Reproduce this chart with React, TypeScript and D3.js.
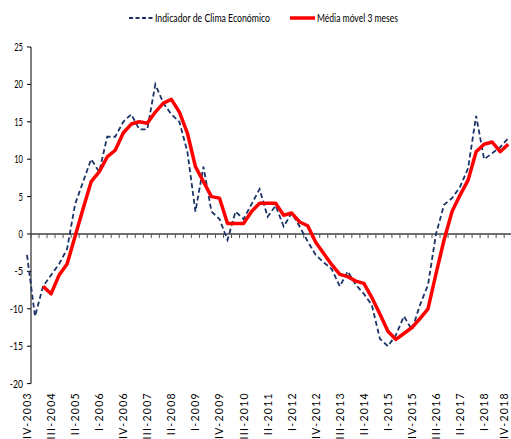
import React from "react";
import * as d3 from "d3";

const quarters: string[] = [
  "IV-2003",
  "I-2004", "II-2004", "III-2004", "IV-2004",
  "I-2005", "II-2005", "III-2005", "IV-2005",
  "I-2006", "II-2006", "III-2006", "IV-2006",
  "I-2007", "II-2007", "III-2007", "IV-2007",
  "I-2008", "II-2008", "III-2008", "IV-2008",
  "I-2009", "II-2009", "III-2009", "IV-2009",
  "I-2010", "II-2010", "III-2010", "IV-2010",
  "I-2011", "II-2011", "III-2011", "IV-2011",
  "I-2012", "II-2012", "III-2012", "IV-2012",
  "I-2013", "II-2013", "III-2013", "IV-2013",
  "I-2014", "II-2014", "III-2014", "IV-2014",
  "I-2015", "II-2015", "III-2015", "IV-2015",
  "I-2016", "II-2016", "III-2016", "IV-2016",
  "I-2017", "II-2017", "III-2017", "IV-2017",
  "I-2018", "II-2018", "III-2018", "IV-2018",
];

const indicador: number[] = [
  -2.8, -11, -7, -5.5, -4, -2, 4, 7, 10, 8.3,
  13, 13, 15, 16, 14, 14, 20, 17.5, 16, 15,
  11, 3, 9, 3, 2, -0.8, 3, 2, 4, 6,
  2.3, 3.8, 1, 2.8, 1, -1, -2.8, -3.8, -4.7, -7,
  -5, -6.8, -8, -9.5, -14, -15, -13.5, -11, -12.8, -9.5,
  -6.8, 0, 3.9, 4.8, 6.3, 8.8, 15.8, 10, 10.8, 11.6, 12.8,
];

const mediaMovel: (number | null)[] = [
  null, null, -7, -8, -5.5, -4, -0.3, 3.4, 7, 8.3,
  10.3, 11.2, 13.5, 14.7, 15, 14.8, 16.3, 17.5, 18, 16.3,
  13.5, 9, 7, 5, 4.8, 1.4, 1.4, 1.4, 3, 4.1,
  4.1, 4.1, 2.5, 2.8, 1.6, 1.1, -1.1, -2.6, -4.1, -5.4,
  -5.7, -6.3, -6.6, -8.5, -10.7, -13, -14.1, -13.3, -12.5, -11.3,
  -10, -5.3, -0.8, 3, 5.2, 7.2, 11, 12, 12.3, 11, 12,
];

const yTicks: number[] = [-20, -15, -10, -5, 0, 5, 10, 15, 20, 25];
const seriesNames: string[] = ["Indicador de Clima Económico", "Média móvel 3 meses"];

const NAVY = "#1a3368";
const RED = "#ff0000";

export default function App() {
  const W = 511;
  const H = 439;
  const x = d3.scalePoint<string>().domain(quarters).range([27, 508.2]);
  const step = x.step();
  const y = d3.scaleLinear().domain([-20, 25]).range([383.6, 47]);
  const axisX = 31;

  const lineInd = d3
    .line<number>()
    .x((_, i) => x(quarters[i]) as number)
    .y((d) => y(d));
  const lineMed = d3
    .line<number | null>()
    .defined((d) => d !== null)
    .x((_, i) => x(quarters[i]) as number)
    .y((d) => y(d as number));

  const labelIdx = quarters.map((_, i) => i).filter((i) => i % 3 === 0);
  const boundaries = quarters.slice(0, quarters.length - 1).map((q) => (x(q) as number) + step / 2);

  return (
    <svg
      width={W}
      height={H}
      style={{ position: "absolute", left: 0, top: 0, background: "#fff" }}
    >
      <rect x={0} y={0} width={W} height={H} fill="#fff" />
      {/* legend */}
      <g>
        <line x1={129} x2={153} y1={18} y2={18} stroke={NAVY} strokeWidth={2} strokeDasharray="4,2.5" />
        <text x={155} y={22} fontFamily="Lato, sans-serif" fontSize={12} textLength={115} lengthAdjust="spacingAndGlyphs" fill="#000">
          {seriesNames[0]}
        </text>
        <line x1={290} x2={315} y1={18} y2={18} stroke={RED} strokeWidth={3.5} />
        <text x={317} y={22} fontFamily="Lato, sans-serif" fontSize={12} textLength={81} lengthAdjust="spacingAndGlyphs" fill="#000">
          {seriesNames[1]}
        </text>
      </g>
      {/* y axis */}
      <line x1={axisX} x2={axisX} y1={y(25)} y2={y(-20)} stroke="#000" strokeWidth={1} />
      {yTicks.map((t) => (
        <g key={t}>
          <line x1={axisX - 4} x2={axisX} y1={y(t)} y2={y(t)} stroke="#000" strokeWidth={1} />
          <text
            x={23}
            y={y(t) + 4}
            textAnchor="end"
            fontFamily="Lato, sans-serif"
            fontSize={12}
            textLength={String(t).length * 4.4}
            lengthAdjust="spacingAndGlyphs"
            fill="#000"
          >
            {t}
          </text>
        </g>
      ))}
      {/* zero line with category ticks */}
      <line x1={axisX} x2={W} y1={y(0)} y2={y(0)} stroke="#404040" strokeWidth={1.5} />
      {boundaries.map((b, i) => (
        <line key={i} x1={b} x2={b} y1={y(0)} y2={y(0) + 4} stroke="#555" strokeWidth={1} />
      ))}
      {/* x labels */}
      {labelIdx.map((i) => {
        const cx = Math.min((x(quarters[i]) as number) + 4, W - 3);
        return (
          <text
            key={i}
            transform={`translate(${cx},392) rotate(-90)`}
            textAnchor="end"
            fontFamily="Lato, sans-serif"
            fontSize={10.5}
            letterSpacing={1.3}
            fill="#000"
          >
            {quarters[i]}
          </text>
        );
      })}
      {/* series */}
      <path d={lineInd(indicador) || ""} fill="none" stroke={NAVY} strokeWidth={1.8} strokeDasharray="5,3" />
      <path d={lineMed(mediaMovel) || ""} fill="none" stroke={RED} strokeWidth={3.5} strokeLinejoin="round" />
    </svg>
  );
}
